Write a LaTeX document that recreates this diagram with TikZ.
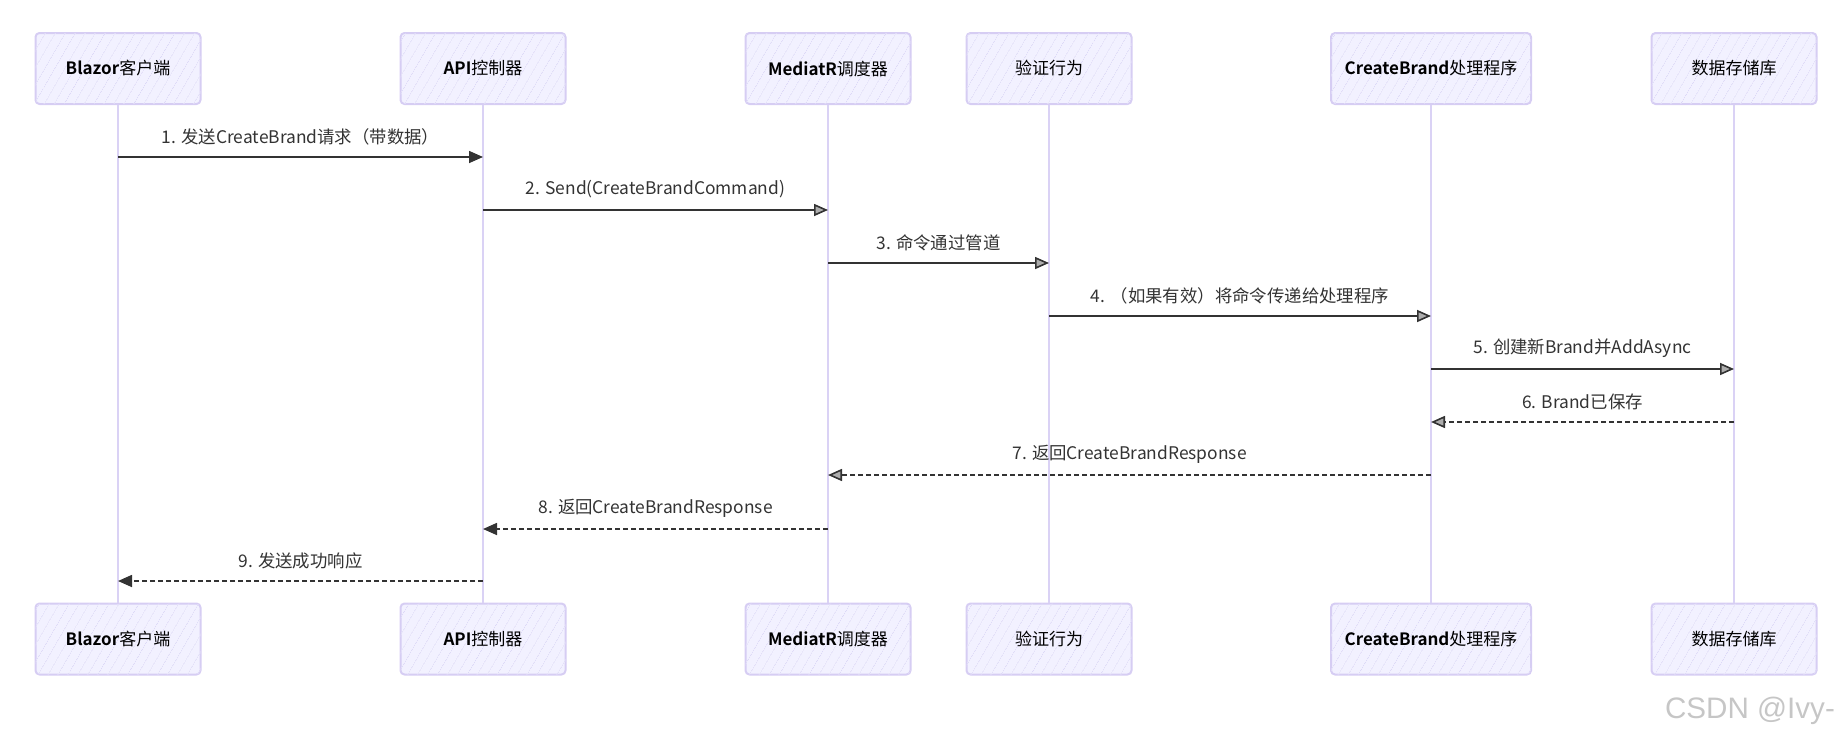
\documentclass[tikz,border=0pt]{standalone}
\usepackage{fontspec}
\setmainfont{Noto Sans CJK SC}[BoldFont={Noto Sans CJK SC Bold}]
\newfontfamily\wmfont{Liberation Sans}
\usetikzlibrary{arrows.meta, patterns.meta}
\definecolor{actFill}{HTML}{F2F1FF}
\definecolor{actHatch}{HTML}{DCD8F8}
\definecolor{actLine}{HTML}{D6CDF3}
\definecolor{lifeLine}{HTML}{DAD2F5}
\definecolor{msgInk}{HTML}{333333}

\tikzset{
  actor/.style={draw=actLine, line width=1pt, fill=actFill, rounded corners=2pt,
    minimum height=35.5pt, text=black, font=\fontsize{8.5}{10}\selectfont,
    postaction={pattern={Lines[angle=60,distance=4pt,line width=0.35pt]}, pattern color=actHatch}},
  life/.style={draw=lifeLine, line width=1pt},
  lbl/.style={text=msgInk, font=\fontsize{8.7}{10}\selectfont, inner sep=1pt},
  call/.style={draw=msgInk, line width=0.8pt, -{Triangle[length=7pt,width=6pt]}},
  callh/.style={draw=msgInk, line width=0.8pt, -{Triangle[length=7pt,width=6pt,fill=msgInk!40]}},
  backh/.style={callh, dash pattern=on 2.5pt off 1.5pt},
  back/.style={call, dash pattern=on 2.5pt off 1.5pt},
}

\begin{document}
\begin{tikzpicture}[x=0.5pt, y=-0.5pt]
  \useasboundingbox (0,0) rectangle (1847,744);
  % participants, top and bottom, with lifelines
  \foreach \n/\x/\w/\t in {bl/118/82.5pt/{\textbf{Blazor}客户端}, api/483/82.5pt/{\textbf{API}控制器},
      med/828/82.5pt/{\textbf{MediatR}调度器}, val/1049/82.5pt/{验证行为},
      hdl/1431/100pt/{\textbf{CreateBrand}处理程序}, db/1734/82.5pt/{数据存储库}}{
    \node[actor, minimum width=\w] (\n-top) at (\x,68.5) {\t};
    \node[actor, minimum width=\w] (\n-bot) at (\x,639) {\t};
    \draw[life] (\n-top) -- (\n-bot);}
  % messages
  \foreach \a/\b/\y/\s/\t in {bl/api/157/call/{1. 发送CreateBrand请求（带数据）},
      api/med/210/callh/{2. Send(CreateBrandCommand)},
      med/val/263/callh/{3. 命令通过管道},
      val/hdl/316/callh/{4. （如果有效）将命令传递给处理程序},
      hdl/db/369/callh/{5. 创建新Brand并AddAsync},
      db/hdl/422/backh/{6. Brand已保存},
      hdl/med/475/backh/{7. 返回CreateBrandResponse},
      med/api/529/back/{8. 返回CreateBrandResponse},
      api/bl/581/back/{9. 发送成功响应}}{
    \draw[\s] (\a-top |- 0,\y) -- (\b-top |- 0,\y) node[lbl, midway, above=4.5pt] {\t};}
  % watermark
  \node[text=gray!45, font=\wmfont\fontsize{14.8}{16}\selectfont] (wm) at (1750,711) {CSDN @Ivy-};
\end{tikzpicture}
\end{document}
